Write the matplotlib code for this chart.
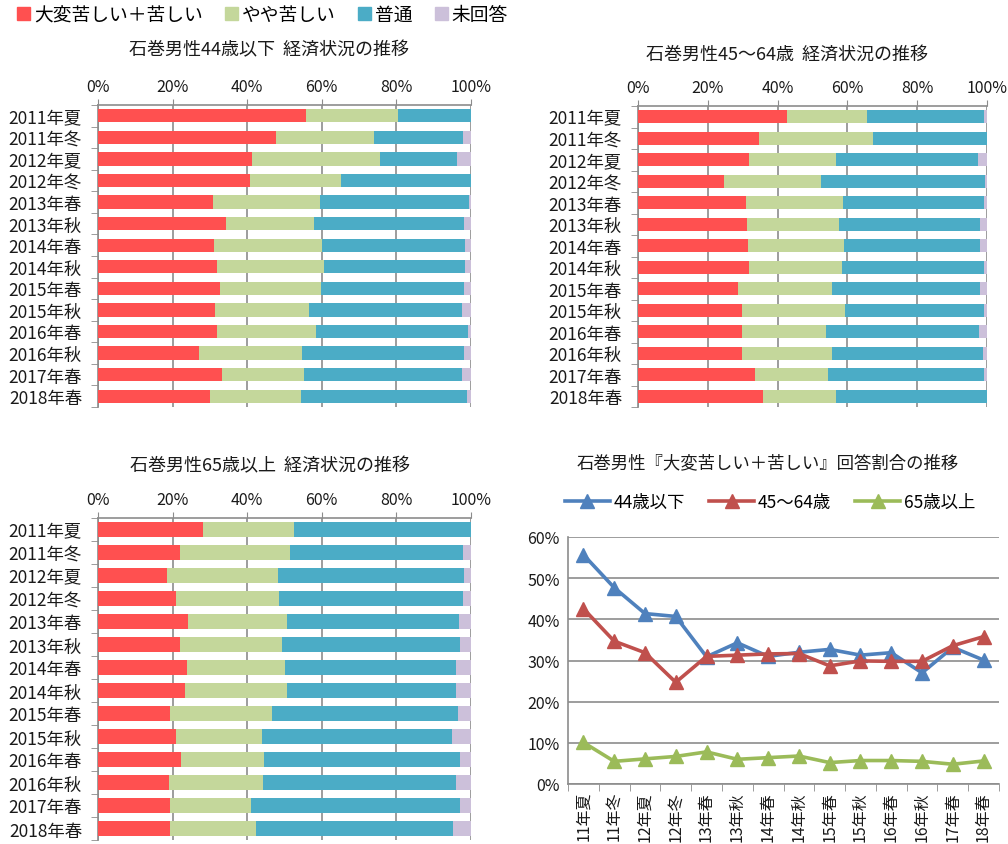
import matplotlib
matplotlib.use('Agg')
import matplotlib.pyplot as plt
import numpy as np

plt.rcParams['font.family'] = ['Noto Sans CJK JP', 'DejaVu Sans']

# ---- data ----
periods = ['2011年夏', '2011年冬', '2012年夏', '2012年冬', '2013年春', '2013年秋', '2014年春',
           '2014年秋', '2015年春', '2015年秋', '2016年春', '2016年秋', '2017年春', '2018年春']
short_periods = ['11年夏', '11年冬', '12年夏', '12年冬', '13年春', '13年秋', '14年春',
                 '14年秋', '15年春', '15年秋', '16年春', '16年秋', '17年春', '18年春']
answers = ['大変苦しい＋苦しい', 'やや苦しい', '普通', '未回答']

# 44歳以下
red1 = [55.7, 47.7, 41.4, 40.7, 30.9, 34.3, 31.0, 32.0, 32.7, 31.3, 31.9, 27.0, 33.2, 30.1]
green1 = [24.6, 26.3, 34.2, 24.5, 28.7, 23.7, 29.0, 28.7, 27.1, 25.4, 26.6, 27.7, 22.1, 24.4]
blue1 = [19.7, 23.9, 20.6, 34.8, 39.9, 40.1, 38.4, 37.8, 38.3, 41.0, 40.6, 43.4, 42.3, 44.5]
na1 = [0.0, 2.1, 3.8, 0.0, 0.5, 1.9, 1.6, 1.5, 1.9, 2.3, 0.9, 1.9, 2.4, 1.0]

# 45～64歳
red2 = [42.6, 34.7, 31.9, 24.7, 31.0, 31.3, 31.6, 31.7, 28.7, 29.9, 29.8, 29.8, 33.6, 35.8]
green2 = [23.0, 32.6, 24.9, 27.7, 27.6, 26.4, 27.4, 26.7, 26.9, 29.4, 24.0, 25.8, 20.8, 21.0]
blue2 = [33.5, 32.7, 40.7, 47.1, 40.4, 40.3, 39.0, 40.6, 42.4, 39.7, 44.0, 43.3, 44.7, 43.2]
na2 = [0.9, 0.0, 2.5, 0.5, 1.0, 2.0, 2.0, 1.0, 2.0, 1.0, 2.2, 1.1, 0.9, 0.0]

# 65歳以上
red3 = [28.1, 21.9, 18.4, 20.9, 24.1, 21.9, 23.8, 23.2, 19.2, 20.9, 22.2, 19.0, 19.4, 19.2]
green3 = [24.4, 29.5, 29.9, 27.5, 26.7, 27.3, 26.3, 27.5, 27.4, 23.1, 22.4, 25.3, 21.6, 23.1]
blue3 = [47.5, 46.5, 49.9, 49.4, 46.1, 47.8, 45.9, 45.4, 49.8, 51.0, 52.5, 51.8, 56.1, 53.0]
na3 = [0.0, 2.1, 1.8, 2.2, 3.1, 3.0, 4.0, 3.9, 3.6, 5.0, 2.9, 3.9, 2.9, 4.7]

# 『大変苦しい＋苦しい』 line chart
line_labels = ['44歳以下', '45～64歳', '65歳以上']
line_44 = [55.7, 47.7, 41.4, 40.7, 30.9, 34.3, 31.0, 32.0, 32.7, 31.3, 31.9, 27.0, 33.2, 30.1]
line_45 = [42.6, 34.7, 31.9, 24.7, 31.0, 31.3, 31.6, 31.7, 28.7, 29.9, 29.8, 29.8, 33.6, 35.8]
line_65 = [10.1, 5.5, 6.1, 6.7, 7.8, 6.0, 6.4, 6.8, 5.2, 5.7, 5.7, 5.5, 4.8, 5.6]

bar_colors = ['#FF5050', '#C4D79B', '#4BACC6', '#CCC0DA']
line_colors = ['#4F81BD', '#C0504D', '#9BBB59']
grid_c = '#8C8C8C'
txt_c = '#1A1A1A'

W, H = 1008, 845
fig = plt.figure(figsize=(W / 100, H / 100), dpi=100)


def box(l, t, r, b):
    # pixel box -> figure fraction
    return [l / W, 1 - b / H, (r - l) / W, (b - t) / H]


def ftext(px, py, s, **kw):
    fig.text(px / W, 1 - py / H, s, ha='center', va='center', color=txt_c, **kw)


def stacked(ax, red, green, blue, na):
    y = np.arange(len(periods))
    left = np.zeros(len(periods))
    for vals, c in zip([red, green, blue, na], bar_colors):
        ax.barh(y, vals, left=left, height=0.62, color=c, zorder=3)
        left = left + np.array(vals)
    ax.set_xlim(0, 100)
    ax.set_ylim(len(periods) - 0.5, -0.5)
    ax.xaxis.tick_top()
    ax.set_xticks([0, 20, 40, 60, 80, 100])
    ax.set_xticklabels(['0%', '20%', '40%', '60%', '80%', '100%'], fontsize=11.5, color=txt_c)
    ax.tick_params(axis='x', length=4, color=grid_c, pad=3, direction='out')
    ax.set_yticks(y)
    ax.set_yticklabels(periods, fontsize=12.5, color=txt_c)
    ax.set_yticks(np.arange(len(periods) + 1) - 0.5, minor=True)
    ax.tick_params(axis='y', which='major', length=0, pad=11.5)
    ax.tick_params(axis='y', which='minor', length=5, color=grid_c)
    ax.grid(axis='x', color=grid_c, linewidth=1.2, zorder=0)
    for s in ['right', 'bottom']:
        ax.spines[s].set_visible(False)
    for s in ['left', 'top']:
        ax.spines[s].set_color(grid_c)
        ax.spines[s].set_linewidth(1.2)


ax1 = fig.add_axes(box(98, 106, 471, 408))
stacked(ax1, red1, green1, blue1, na1)
ftext(269, 50, '石巻男性44歳以下  経済状況の推移', fontsize=13)

ax2 = fig.add_axes(box(638, 107, 987, 408))
stacked(ax2, red2, green2, blue2, na2)
ftext(787, 55, '石巻男性45～64歳  経済状況の推移', fontsize=13)

ax3 = fig.add_axes(box(98, 519, 471, 841))
stacked(ax3, red3, green3, blue3, na3)
ftext(270, 466, '石巻男性65歳以上  経済状況の推移', fontsize=13)

# top legend
handles = [plt.Rectangle((0, 0), 1, 1, color=c) for c in bar_colors]
fig.legend(handles, answers, loc='upper left', bbox_to_anchor=(0.0, 1.014), ncol=4,
           frameon=False, fontsize=13.5, handlelength=0.7, handleheight=0.7,
           handletextpad=0.2, columnspacing=1.2)

# line chart
ax4 = fig.add_axes(box(568, 538, 999, 785))
x = np.arange(len(short_periods))
for vals, c, lab in zip([line_44, line_45, line_65], line_colors, line_labels):
    ax4.plot(x, vals, color=c, linewidth=2.6, marker='^', markersize=10, label=lab, zorder=3)
ax4.set_xlim(-0.5, len(short_periods) - 0.5)
ax4.set_ylim(0, 60)
ax4.set_yticks(range(0, 61, 10))
ax4.set_yticklabels([f'{v}%' for v in range(0, 61, 10)], fontsize=11.5, color=txt_c)
ax4.tick_params(axis='y', length=0, pad=6)
ax4.set_xticks(x)
ax4.set_xticklabels(short_periods, rotation=90, fontsize=11.5, color=txt_c)
ax4.set_xticks(np.arange(len(short_periods) + 1) - 0.5, minor=True)
ax4.tick_params(axis='x', which='major', length=0, pad=5)
ax4.tick_params(axis='x', which='minor', length=5, color=grid_c)
ax4.grid(axis='y', color=grid_c, linewidth=1.2, zorder=0)
for s in ['right', 'top']:
    ax4.spines[s].set_visible(False)
for s in ['left', 'bottom']:
    ax4.spines[s].set_color(grid_c)
    ax4.spines[s].set_linewidth(1.2)
ftext(768, 463, '石巻男性『大変苦しい＋苦しい』回答割合の推移', fontsize=12.5)
fig.legend(*ax4.get_legend_handles_labels(), loc='center', bbox_to_anchor=(770 / W, 1 - 503 / H),
           ncol=3, frameon=False, fontsize=12.5, handlelength=2.6, handletextpad=0.2,
           columnspacing=1.4)

fig.savefig('out.png', dpi=100)
